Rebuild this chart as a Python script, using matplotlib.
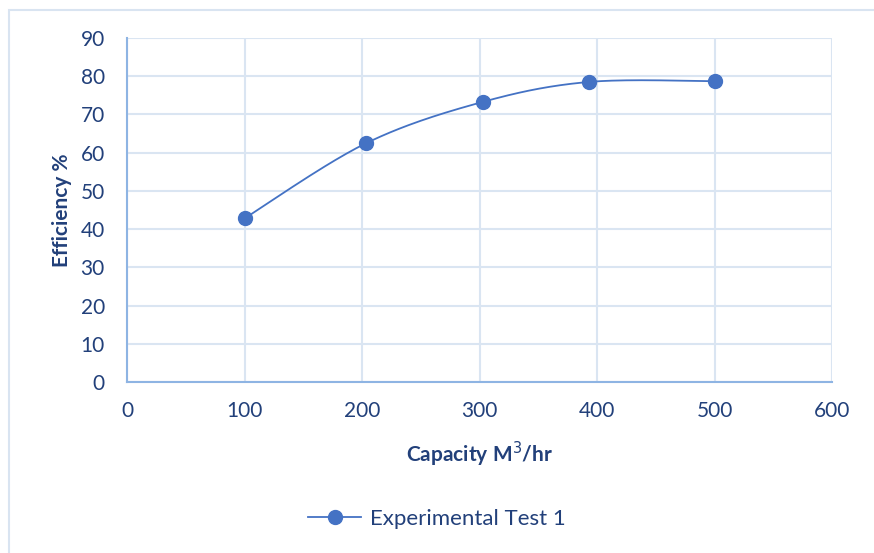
import numpy as np
import matplotlib
matplotlib.use('Agg')
import matplotlib.pyplot as plt
from matplotlib.patches import Rectangle

capacity = [100, 203, 303, 393, 500]
efficiency = [42.8, 62.4, 73.3, 78.5, 78.7]

x_ticks = [0, 100, 200, 300, 400, 500, 600]
y_ticks = [0, 10, 20, 30, 40, 50, 60, 70, 80, 90]

line_color = '#4472c4'
text_color = '#22407a'
grid_color = '#dae5f2'
spine_color = '#8eb4e3'

plt.rcParams['font.family'] = ['Lato', 'DejaVu Sans']


def smooth_curve(xs, ys, n=40):
    # Excel-style smoothed line: Catmull-Rom via cubic Bezier segments
    pts = np.column_stack([xs, ys]).astype(float)
    p = np.vstack([pts[0], pts, pts[-1]])
    out = []
    t = np.linspace(0, 1, n)[:, None]
    for i in range(1, len(p) - 2):
        p0, p1, p2, p3 = p[i - 1], p[i], p[i + 1], p[i + 2]
        c1 = p1 + (p2 - p0) / 6
        c2 = p2 - (p3 - p1) / 6
        seg = ((1 - t) ** 3) * p1 + 3 * ((1 - t) ** 2) * t * c1 + 3 * (1 - t) * t ** 2 * c2 + t ** 3 * p2
        out.append(seg)
    out = np.vstack(out)
    return out[:, 0], out[:, 1]


fig = plt.figure(figsize=(8.74, 5.53), dpi=100)
fig.patches.append(Rectangle((9 / 874, -0.1), 1.2, 1 - 10 / 553 + 0.1,
                             transform=fig.transFigure, fill=False,
                             edgecolor='#d9e4f1', linewidth=1.5))

ax = fig.add_axes([127 / 874, 1 - 382 / 553, (832 - 127) / 874, (382 - 38) / 553])

sx, sy = smooth_curve(capacity, efficiency)
ax.plot(sx, sy, color=line_color, linewidth=1.3)
ax.plot(capacity, efficiency, linestyle='none', marker='o', markersize=10,
        color=line_color)
# legend proxy
ax.plot([], [], color=line_color, linewidth=1.3, marker='o', markersize=10,
        label='Experimental Test 1')

ax.set_xlim(0, 600)
ax.set_ylim(0, 90)
ax.set_xticks(x_ticks)
ax.set_yticks(y_ticks)
ax.grid(True, color=grid_color, linewidth=1.5)
ax.set_axisbelow(True)

for side in ['top', 'right']:
    ax.spines[side].set_visible(False)
for side in ['left', 'bottom']:
    ax.spines[side].set_color(spine_color)
    ax.spines[side].set_linewidth(1.5)

ax.tick_params(length=0, labelsize=15, labelcolor=text_color)
ax.tick_params(axis='y', pad=16)
ax.tick_params(axis='x', pad=14)

ax.set_xlabel('Capacity M$^3$/hr', fontsize=15, fontweight='bold',
              color=text_color, labelpad=13)
ax.set_ylabel('Efficiency %', fontsize=15, fontweight='bold',
              color=text_color, labelpad=6)

leg = fig.legend(loc='center', bbox_to_anchor=(0.5, 1 - 519 / 553),
                 frameon=False, fontsize=16, handlelength=2.4, handletextpad=0.4)
for t in leg.get_texts():
    t.set_color(text_color)

fig.savefig('out.png', dpi=100)
